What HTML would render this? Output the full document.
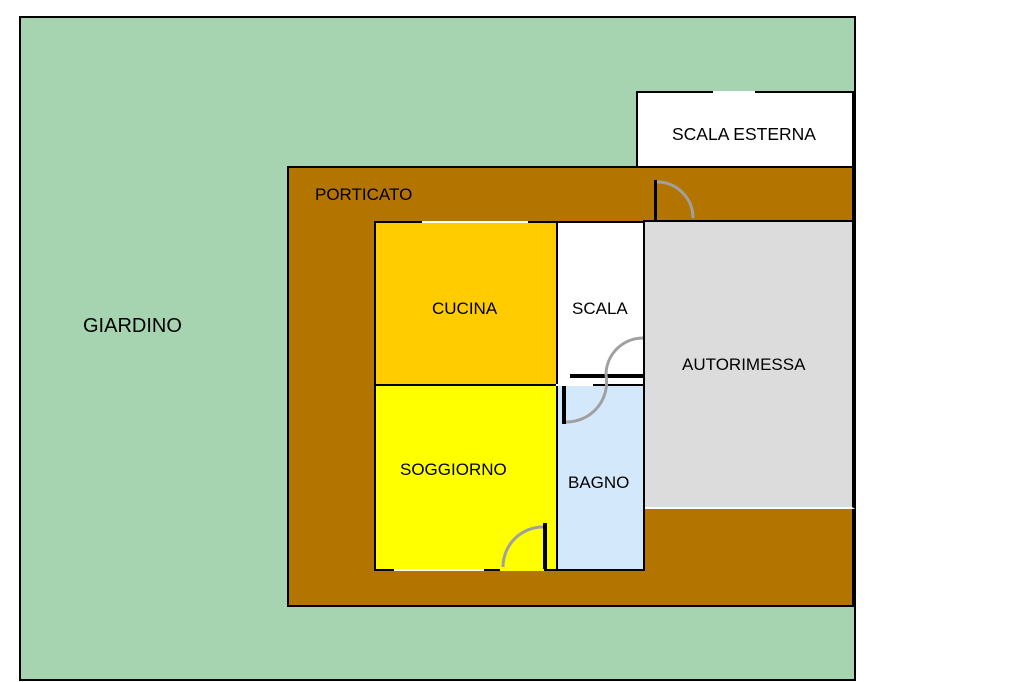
<!DOCTYPE html>
<html><head><meta charset="utf-8"><style>
body{margin:0;width:1024px;height:682px;background:#fff;position:relative;overflow:hidden;font-family:"Liberation Sans",Arial,sans-serif;}
div{position:absolute;box-sizing:border-box;}
.t{font-size:17px;color:#000;white-space:nowrap;}
</style></head><body>
<div style="left:19px;top:16px;width:837px;height:665px;background:#a6d4b0;border:2px solid #000"></div>
<div style="left:636px;top:91px;width:219px;height:77px;background:#fff;border:2px solid #000;border-right-width:3px"></div>
<div style="left:713px;top:91px;width:42px;height:2px;background:#fff"></div>
<div class="t" style="left:672px;top:124px;font-size:17.5px">SCALA ESTERNA</div>
<div style="left:287px;top:166px;width:568px;height:441px;background:#b37400;border:2px solid #000;border-right-width:3px"></div>
<div class="t" style="left:315px;top:185px">PORTICATO</div>
<div style="left:643px;top:220px;width:212px;height:289px;background:#dcdcdc;border:2px solid #000;border-right-width:3px;border-bottom:2px solid #fff"></div>
<div class="t" style="left:682px;top:355px">AUTORIMESSA</div>
<div style="left:654px;top:180px;width:3px;height:42px;background:#000"></div>
<svg style="position:absolute;left:0;top:0" width="1024" height="682">
<path d="M657 182 A36 36 0 0 1 693 218" fill="none" stroke="#a0a0a0" stroke-width="3"/>
</svg>
<div style="left:374px;top:221px;width:184px;height:165px;background:#ffcc00;border:2px solid #000"></div>
<div style="left:374px;top:384px;width:184px;height:187px;background:#ffff00;border:2px solid #000"></div>
<div style="left:556px;top:221px;width:89px;height:165px;background:#fff;border:2px solid #000"></div>
<div style="left:556px;top:384px;width:89px;height:187px;background:#d4e8fb;border:2px solid #000"></div>
<div style="left:422px;top:221px;width:106px;height:2px;background:#fff"></div>
<div style="left:394px;top:569px;width:90px;height:2px;background:#fff"></div>
<div style="left:500px;top:567px;width:44px;height:4px;background:#ffff00"></div>
<div style="left:543px;top:523px;width:4px;height:46px;background:#000"></div>
<div style="left:562px;top:384px;width:4px;height:40px;background:#000"></div>
<div style="left:570px;top:374px;width:73px;height:4px;background:#000"></div>
<div style="left:556px;top:384px;width:37px;height:2px;background:#fff"></div>
<svg style="position:absolute;left:0;top:0" width="1024" height="682">
<g fill="none" stroke="#a0a0a0" stroke-width="3">
<path d="M503 567 A40 40 0 0 1 543 527"/>
<path d="M643 338 A37 37 0 0 0 606 375"/>
<path d="M606 375 A40 40 0 0 1 566 422"/>
</g>
</svg>
<div class="t" style="left:432px;top:299px">CUCINA</div>
<div class="t" style="left:572px;top:299px">SCALA</div>
<div class="t" style="left:400px;top:460px">SOGGIORNO</div>
<div class="t" style="left:568px;top:473px">BAGNO</div>
<div class="t" style="left:83px;top:315px;font-size:20px">GIARDINO</div>
</body></html>
